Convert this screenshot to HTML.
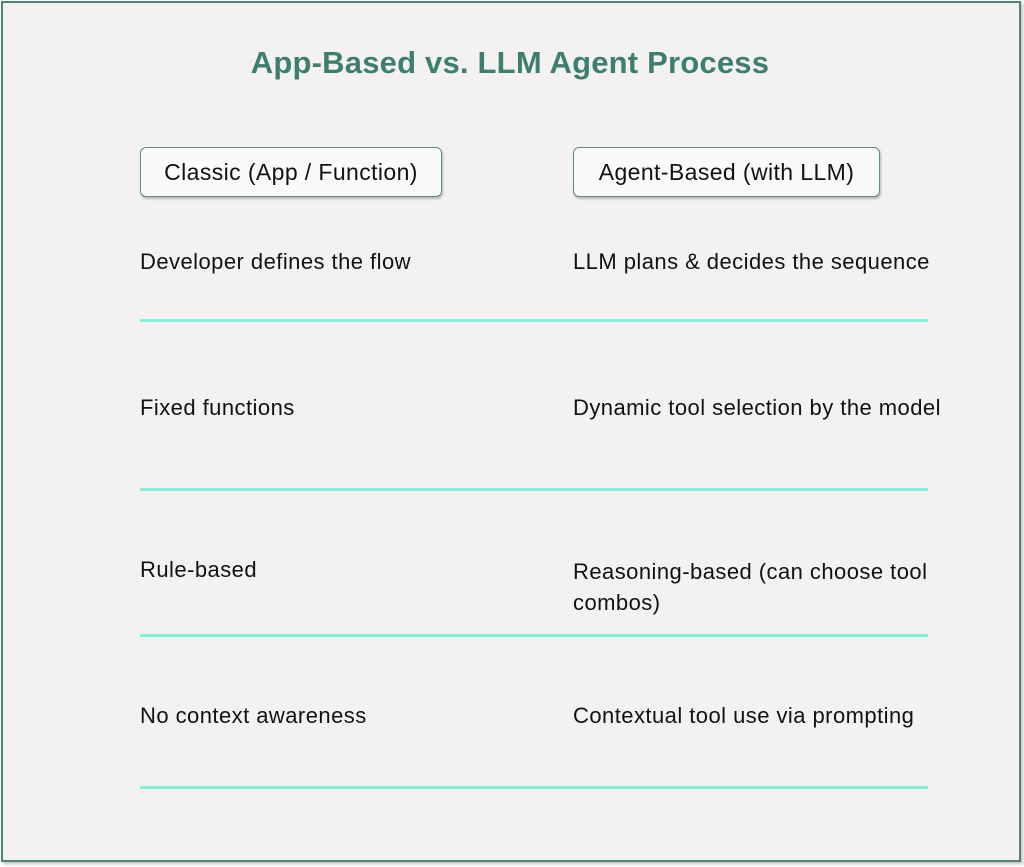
<!DOCTYPE html>
<html><head><style>
body{margin:0;width:1024px;height:867px;background:#fff;font-family:"Liberation Sans",sans-serif;position:relative;overflow:hidden}
.frame{position:absolute;left:1px;top:1px;width:1016px;height:857px;border:2px solid #4f837a;background:#f3f2f0;box-shadow:2px 2px 3px rgba(0,0,0,.25)}
.title{position:absolute;left:0;width:1020px;top:45px;text-align:center;font-size:31px;font-weight:bold;color:#3e7e70;letter-spacing:0.2px}
.btn{position:absolute;top:147px;height:48px;border:1.5px solid #5b8f86;border-radius:6px;background:#fafaf9;box-shadow:1px 2px 2px rgba(0,0,0,.25);font-size:23px;letter-spacing:0.4px;line-height:48px;text-align:center;color:#111}
.t{position:absolute;font-size:22px;letter-spacing:0.45px;color:#111;line-height:31px}
.l{position:absolute;left:140px;width:788px;height:3px;background:#7ff3df}
</style></head><body>
<div class="frame"></div>
<div class="title">App-Based vs. LLM Agent Process</div>
<div class="btn" style="left:140px;width:300px">Classic (App / Function)</div>
<div class="btn" style="left:573px;width:305px">Agent-Based (with LLM)</div>
<div class="t" style="left:140px;top:246px">Developer defines the flow</div>
<div class="t" style="left:573px;top:246px">LLM plans &amp; decides the sequence</div>
<div class="l" style="top:319px"></div>
<div class="t" style="left:140px;top:392px">Fixed functions</div>
<div class="t" style="left:573px;top:392px">Dynamic tool selection by the model</div>
<div class="l" style="top:488px"></div>
<div class="t" style="left:140px;top:554px">Rule-based</div>
<div class="t" style="left:573px;top:556px;width:390px">Reasoning-based (can choose tool<br>combos)</div>
<div class="l" style="top:634px"></div>
<div class="t" style="left:140px;top:700px">No context awareness</div>
<div class="t" style="left:573px;top:700px">Contextual tool use via prompting</div>
<div class="l" style="top:786px"></div>
</body></html>
